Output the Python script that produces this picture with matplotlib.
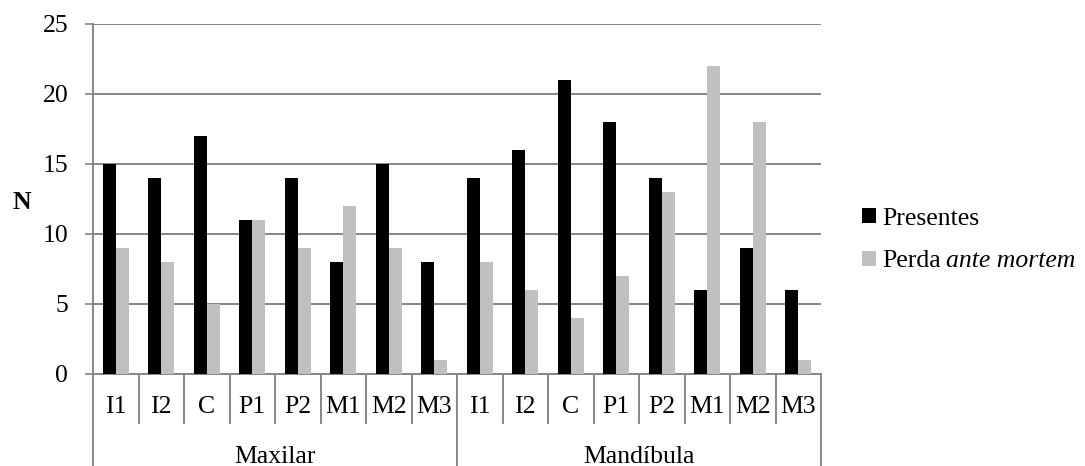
import numpy as np
import matplotlib
matplotlib.use("Agg")
import matplotlib.pyplot as plt
from matplotlib.transforms import blended_transform_factory

# tooth categories, repeated for each jaw
teeth = ["I1", "I2", "C", "P1", "P2", "M1", "M2", "M3"]
groups = ["Maxilar", "Mandíbula"]

presentes = [15, 14, 17, 11, 14, 8, 15, 8,
             14, 16, 21, 18, 14, 6, 9, 6]
perda = [9, 8, 5, 11, 9, 12, 9, 1,
         8, 6, 4, 7, 13, 22, 18, 1]

plt.rcParams["font.family"] = ["Liberation Serif", "DejaVu Serif"]

FS = 18.5
GRID = "#868686"

fig = plt.figure(figsize=(10.85, 4.66), dpi=100)
ax = fig.add_axes([93 / 1085, 1 - 374 / 466, 728 / 1085, 350 / 466])

labels = teeth * len(groups)
x = np.arange(len(labels)) + 0.5
w = 1 / 3.5

ax.bar(x - w / 2, presentes, width=w, color="black", label="Presentes", zorder=3)
ax.bar(x + w / 2, perda, width=w, color="#c0c0c0", label="Perda", zorder=3)

ax.set_xlim(0, len(labels))
ax.set_ylim(0, 25)
ax.set_yticks(range(0, 26, 5))
ax.yaxis.grid(True, color=GRID, linewidth=1.4, zorder=0)
ax.set_xticks([])
ax.tick_params(axis="y", labelsize=FS, length=5.8, width=1.2, color=GRID, pad=12)

for side in ["top", "right"]:
    ax.spines[side].set_visible(False)
for side in ["left", "bottom"]:
    ax.spines[side].set_color(GRID)
    ax.spines[side].set_linewidth(1.4)

ax.set_ylabel("N", rotation=0, fontsize=FS, fontweight="bold", va="center", ha="center")
ax.yaxis.set_label_coords(-0.0975, 0.491)

# two-level category axis
trans = blended_transform_factory(ax.transData, ax.transAxes)
n = len(teeth)
for i, lab in enumerate(labels):
    ax.text(x[i], -0.094, lab, transform=trans, ha="center", va="center", fontsize=FS)
for i in range(1, len(labels)):
    if i % n != 0:
        ax.plot([i, i], [0, -0.14], transform=trans, color=GRID, lw=1.4, clip_on=False)
for g in range(len(groups) + 1):
    ax.plot([g * n, g * n], [0, -0.27], transform=trans, color=GRID, lw=1.4, clip_on=False)
for g, name in enumerate(groups):
    ax.text(g * n + n / 2, -0.237, name, transform=trans, ha="center", va="center", fontsize=FS)

leg = fig.legend(loc="center left", bbox_to_anchor=(862 / 1085, 1 - 240 / 466), frameon=False,
                 fontsize=FS, handlelength=0.54, handleheight=0.54, handletextpad=0.25,
                 labelspacing=0.8, borderpad=0, borderaxespad=0)

# italic part of the second legend label
fig.canvas.draw()
renderer = fig.canvas.get_renderer()
bb = leg.get_texts()[1].get_window_extent(renderer)
fig.text(bb.x1 / fig.bbox.width + 0.005, bb.y0 / fig.bbox.height, "ante mortem",
         fontsize=FS, style="italic", ha="left", va="bottom")

fig.savefig("out.png", dpi=100)
